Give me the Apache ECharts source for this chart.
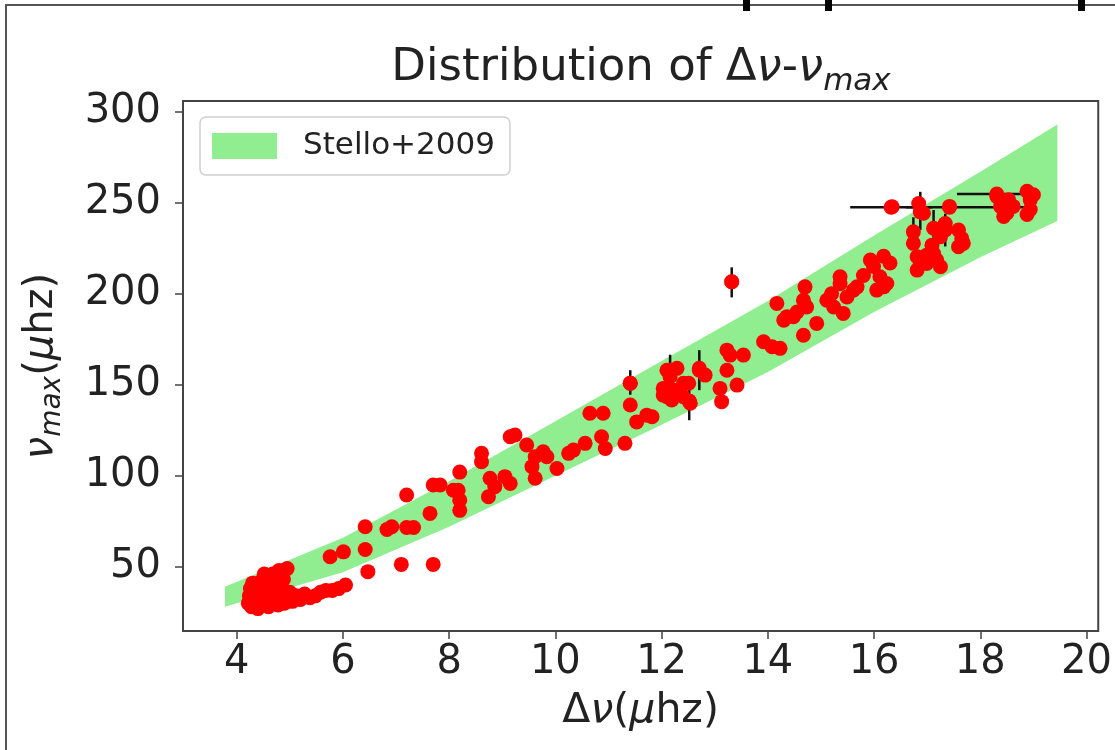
<!DOCTYPE html>
<html>
<head>
<meta charset="utf-8">
<title>Distribution of Δν-νmax</title>
<script src="https://cdn.jsdelivr.net/npm/echarts@6/dist/echarts.min.js"></script>
<style>
  html, body { margin: 0; padding: 0; background: #fff; }
  #main { width: 1115px; height: 750px; }
</style>
</head>
<body>
<div id="main"></div>
<script>
// Stello+2009 band: x, lower edge, upper edge
var bandX    = [3.78, 6, 8, 10, 12, 14, 16, 18, 19.45];
var bandLow  = [28, 47, 72, 100, 128, 157, 190, 220, 240];
var bandHigh = [39, 66, 97, 130, 163, 196, 232, 267, 293];

// stars: [dnu, numax]
var starsLow = [
  [4.22,30],[4.24,34],[4.26,38],[4.28,28],[4.3,32],[4.32,36],[4.34,29],[4.36,40],[4.38,33],[4.4,27],
  [4.42,37],[4.44,31],[4.46,42],[4.48,35],[4.5,29],[4.53,39],[4.56,33],[4.58,44],[4.6,28],[4.62,36],
  [4.66,31],[4.68,46],[4.7,40],[4.74,34],[4.78,29],[4.8,48],[4.84,32],[4.88,43],[4.9,30],[4.95,49],
  [4.98,33],[5.05,31],[5.12,34],[5.2,32],[5.28,35],[5.38,33],[5.48,34],[5.58,36],[5.68,37],[5.8,37],
  [5.92,38],[6.05,40],[4.3,41],[4.52,46],[4.72,43],[4.64,39],[4.85,37],[5.0,36],[4.4,35],[4.55,30]
];
var starsMid = [
  [5.76,55.5],[6.01,58.2],[6.42,72],[6.42,59.5],[6.47,47.3],[6.83,70.5],[6.92,72],[7.1,51.3],[7.2,71.6],
  [7.33,71.6],[7.2,89.4],[7.64,79.3],[7.7,51.3],[7.7,94.9],[7.83,94.9],[8.2,102],[8.17,92],[8.2,86.6],
  [8.2,81],[8.08,92],[8.61,112.3],[8.61,107.7],[8.77,98.6],[8.74,88.5],[8.86,94],[9.05,99.5],[9.15,95.8],
  [9.15,121.4],[9.24,122.4],[9.46,116.9],[9.62,110.4],[9.77,113.2],[9.84,110.4],[9.56,105],[9.62,98.6],
  [10.03,104],[10.25,112.3],[10.34,114.1],[10.56,117.8],[10.65,134.3],[10.9,134.3],[10.87,121.4],
  [10.94,115],[11.31,117.8]
];
var starsHigh = [
  [11.41,150.8],[11.41,138.9],[11.53,129.6],[11.72,133.3],[11.82,132.4],[12.1,158],[12.29,159],[12.16,154.4],
  [12.03,148],[12.1,143.4],[12.19,141.6],[12.03,144.3],[12.35,145.3],[12.41,143.4],[12.51,150.8],[12.54,139.8],
  [12.52,141],[12.71,159],[12.82,155.3],[12.22,147],[12.41,150.8],[13.1,148],[13.13,140.7],[13.23,158],
  [13.23,169],[13.29,166.3],[13.54,166.3],[13.42,149.8],[13.32,206.6],[13.92,173.6],[14.08,170.9],[14.23,170],
  [14.3,185.5],[14.48,187.4],[14.17,194.7],[14.36,187.4],[14.7,203.8],[14.67,196.4],[14.73,192.7],[14.92,183.7],
  [14.67,177.2],[15.11,196.4],[15.24,192.7],[15.36,205.5],[15.49,198.2],[15.61,201.9],[15.42,189.2],[15.68,203.8],
  [15.36,209.3],[15.99,215],[16.18,220.6],[16.3,216.9],[16.11,209.3],[16.18,203.8],[16.05,202],[16.24,205.6],
  [15.93,218.5],[16.34,247.8],[16.84,249.6],[16.93,244.2],[17.42,248],[16.74,227.7],[16.81,220.3],[16.87,216.6],
  [17.12,222.1],[17.25,231.3],[17.34,238.6],[17.3,236],[17.09,226.7],[16.99,221.2],[17.18,218.5],[16.81,213],
  [16.99,216.6],[17.25,214.8],[17.59,235],[17.65,230.4],[17.59,225.8],[17.68,227.7],[18.31,253.5],[18.38,248],
  [18.44,242.5],[18.53,251.7],[18.5,244.4],[18.62,248],[18.88,256.3],[18.94,251.7],[18.94,246.3],[18.88,243.5],
  [19.0,254.4],[15.8,210],[15.2,200],[14.55,190]
];
// error bars: [dnu, numax, dnuLo, dnuHi, numaxLo, numaxHi]
var errBars = [
  [11.41,150.8,11.41,11.41,144.5,158],
  [12.16,158,12.16,12.16,151,166.5],
  [12.52,141,12.52,12.52,130.5,152.5],
  [12.71,158,12.71,12.71,147,169],
  [13.32,206.6,13.32,13.32,198,214.5],
  [16.32,247.5,15.55,17.1,247.5,247.5],
  [17.42,247.5,16.6,18.95,247.5,247.5],
  [18.31,254.8,17.56,19.0,254.8,254.8],
  [16.87,245,16.87,16.87,235,256],
  [16.74,234,16.74,16.74,226,242],
  [17.12,236,17.12,17.12,226,246],
  [17.34,235,17.34,17.34,226,244]
];
var xTicks = [4, 6, 8, 10, 12, 14, 16, 18, 20];
var yTicks = [50, 100, 150, 200, 250, 300];

var FONT = 'DejaVu Sans';
var chart = echarts.init(document.getElementById('main'));
var stars = starsLow.concat(starsMid, starsHigh);

var option = {
  backgroundColor: '#fff',
  animation: false,
  grid: { left: 183, top: 101, right: 16, bottom: 119, show: true, borderColor: '#444', borderWidth: 2 },
  legend: {
    data: ['Stello+2009'],
    left: 200, top: 117,
    padding: [12, 15, 12, 12],
    backgroundColor: '#fff',
    borderColor: '#d0d0d0', borderWidth: 1.5, borderRadius: 6,
    itemWidth: 65, itemHeight: 26,
    icon: 'rect',
    textStyle: { fontFamily: FONT, fontSize: 31, color: '#222', lineHeight: 34, padding: [0, 0, 0, 21] }
  },
  graphic: [
    { type: 'line', shape: { x1: 6, y1: 5, x2: 6, y2: 750 }, style: { stroke: '#555', lineWidth: 2 } },
    { type: 'line', shape: { x1: 5, y1: 5, x2: 1115, y2: 5 }, style: { stroke: '#555', lineWidth: 2 } },
    { type: 'rect', shape: { x: 743, y: 0, width: 7, height: 11 }, style: { fill: '#000' } },
    { type: 'rect', shape: { x: 825, y: 0, width: 7, height: 11 }, style: { fill: '#000' } },
    { type: 'rect', shape: { x: 1078, y: 0, width: 7, height: 11 }, style: { fill: '#000' } },
    {
      type: 'text', x: 641, y: 40,
      style: {
        text: '{n|Distribution of Δ}{i|ν}{n|-}{i|ν}{s|max}',
        align: 'center', verticalAlign: 'top',
        rich: {
          n: { fontFamily: FONT, fontSize: 45, fill: '#222' },
          i: { fontFamily: FONT, fontSize: 45, fontStyle: 'italic', fill: '#222' },
          s: { fontFamily: FONT, fontSize: 31, fontStyle: 'italic', fill: '#222', padding: [26, 0, 0, 0] }
        }
      }
    }
  ],
  xAxis: {
    type: 'value', min: 2.99, max: 20.22,
    splitLine: { show: false },
    axisLine: { show: false },
    axisTick: { show: true, length: 8, lineStyle: { color: '#444', width: 1.5 }, customValues: xTicks },
    axisLabel: { fontFamily: FONT, fontSize: 40, color: '#222', margin: 12, customValues: xTicks },
    name: '{n|Δ}{i|ν}{n|(}{i|μ}{n|hz)}',
    nameLocation: 'middle', nameGap: 60,
    nameTextStyle: {
      rich: {
        n: { fontFamily: FONT, fontSize: 41, color: '#222' },
        i: { fontFamily: FONT, fontSize: 41, fontStyle: 'italic', color: '#222' }
      }
    }
  },
  yAxis: {
    type: 'value', min: 14.7, max: 305.9,
    splitLine: { show: false },
    axisLine: { show: false },
    axisTick: { show: true, length: 8, lineStyle: { color: '#444', width: 1.5 }, customValues: yTicks },
    axisLabel: { fontFamily: FONT, fontSize: 40, color: '#222', margin: 22, customValues: yTicks },
    name: '{i|ν}{s|max}{n|(}{i|μ}{n|hz)}',
    nameLocation: 'middle', nameGap: 116, nameRotate: 90,
    nameTextStyle: {
      rich: {
        n: { fontFamily: FONT, fontSize: 40, color: '#222' },
        i: { fontFamily: FONT, fontSize: 40, fontStyle: 'italic', color: '#222' },
        s: { fontFamily: FONT, fontSize: 28, fontStyle: 'italic', color: '#222', padding: [22, 0, 0, 0] }
      }
    }
  },
  series: [
    {
      name: 'Stello+2009',
      type: 'custom',
      itemStyle: { color: '#90ee90' },
      data: [[bandX[0], bandLow[0]]],
      z: 1,
      renderItem: function (params, api) {
        var pts = [];
        for (var i = 0; i < bandX.length; i++) pts.push(api.coord([bandX[i], bandHigh[i]]));
        for (var j = bandX.length - 1; j >= 0; j--) pts.push(api.coord([bandX[j], bandLow[j]]));
        return { type: 'polygon', shape: { points: pts }, style: { fill: '#90ee90' } };
      }
    },
    {
      name: 'err',
      type: 'custom',
      data: errBars,
      encode: { x: 0, y: 1 },
      z: 2,
      renderItem: function (params, api) {
        var x = api.value(0), y = api.value(1);
        var xl = api.value(2), xh = api.value(3), yl = api.value(4), yh = api.value(5);
        var kids = [];
        var st = { stroke: '#111', lineWidth: 2.5 };
        if (yl !== yh) {
          var a = api.coord([x, yl]), b = api.coord([x, yh]);
          kids.push({ type: 'line', shape: { x1: a[0], y1: a[1], x2: b[0], y2: b[1] }, style: st });
        }
        if (xl !== xh) {
          var c = api.coord([xl, y]), d = api.coord([xh, y]);
          kids.push({ type: 'line', shape: { x1: c[0], y1: c[1], x2: d[0], y2: d[1] }, style: st });
        }
        return { type: 'group', children: kids };
      }
    },
    {
      name: 'stars',
      type: 'scatter',
      data: stars.concat(errBars.map(function (e) { return [e[0], e[1]]; })),
      symbol: 'circle',
      symbolSize: 15,
      itemStyle: { color: '#ff0000', opacity: 1 },
      z: 3
    }
  ]
};
chart.setOption(option);
</script>
</body>
</html>
